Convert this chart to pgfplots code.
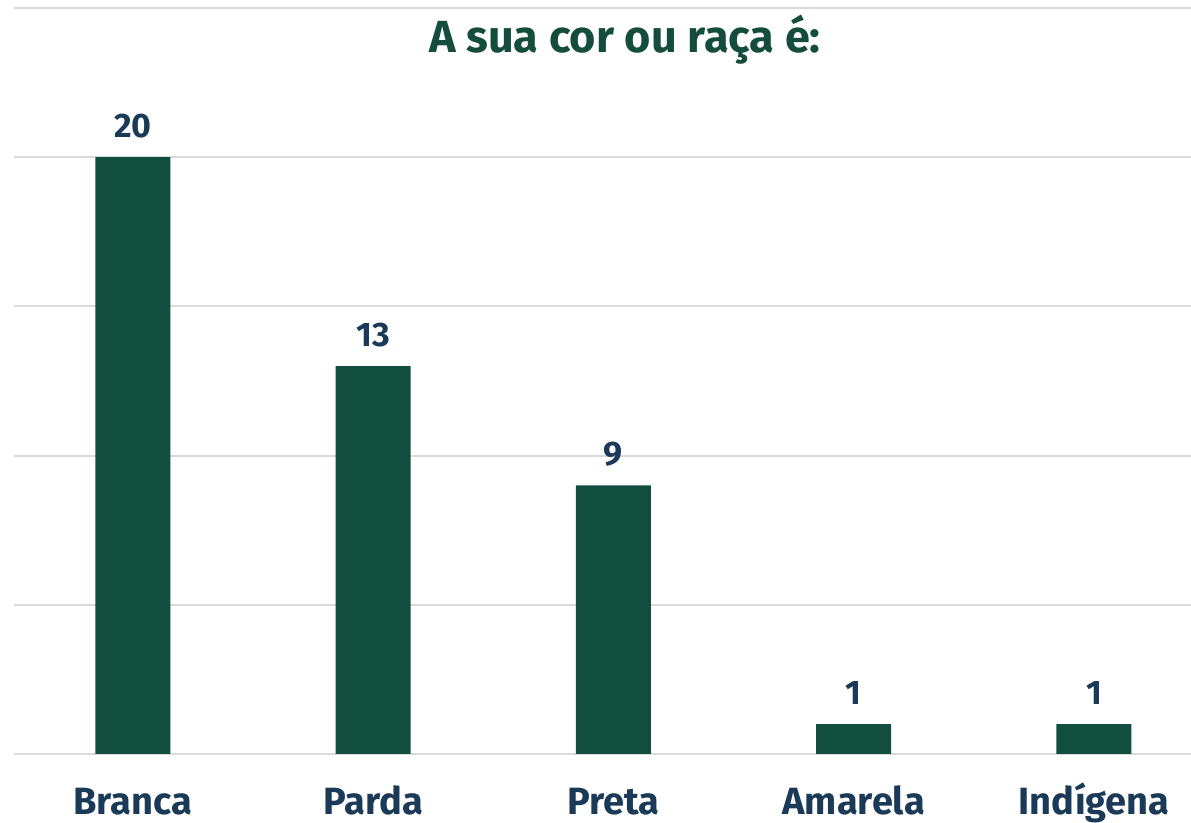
\documentclass[border=0pt]{standalone}
\usepackage{pgfplots}
\pgfplotsset{compat=1.18}
\usepackage{fontspec}
\setmainfont{Fira Sans}
\definecolor{bargreen}{HTML}{114E3E}
\definecolor{titlegreen}{HTML}{154D3C}
\definecolor{labnavy}{HTML}{1B3A57}
\definecolor{gridgray}{HTML}{D9D9D9}
\begin{document}
\begin{tikzpicture}
\path[use as bounding box] (0,0) rectangle (595.5pt,411.5pt);
\begin{axis}[
  at={(7pt,34.5pt)}, anchor=south west,
  scale only axis, width=588.5pt, height=373pt,
  xmin=-0.495, xmax=4.404, ymin=0, ymax=25,
  axis line style={draw=none},
  tick style={draw=none},
  ytick={0,5,10,15,20,25},
  ymajorgrids, grid style={gridgray, line width=1pt},
  xtick={0,1,2,3,4},
  xticklabels={Branca,Parda,Preta,Amarela,Indígena},
  xticklabel style={anchor=base, yshift=-30.5pt, font=\fontsize{19pt}{21pt}\selectfont\bfseries, text=labnavy},
  yticklabels={},
  major tick length=0pt,
  clip=false,
  /pgf/number format/assume math mode=true,
]
\addplot[ybar, bar width=37.5pt, fill=bargreen, draw=none,
  nodes near coords,
  every node near coord/.append style={anchor=base, yshift=10pt, inner sep=0pt, font=\fontsize{17pt}{19pt}\selectfont\bfseries, text=labnavy}]
 coordinates {(0,20) (1,13) (2,9) (3,1) (4,1)};
\end{axis}
\node[anchor=base, text=titlegreen, font=\fontsize{22.5pt}{26pt}\selectfont\bfseries] at (312.5pt,385pt) {A sua cor ou raça é:};
\end{tikzpicture}
\end{document}
